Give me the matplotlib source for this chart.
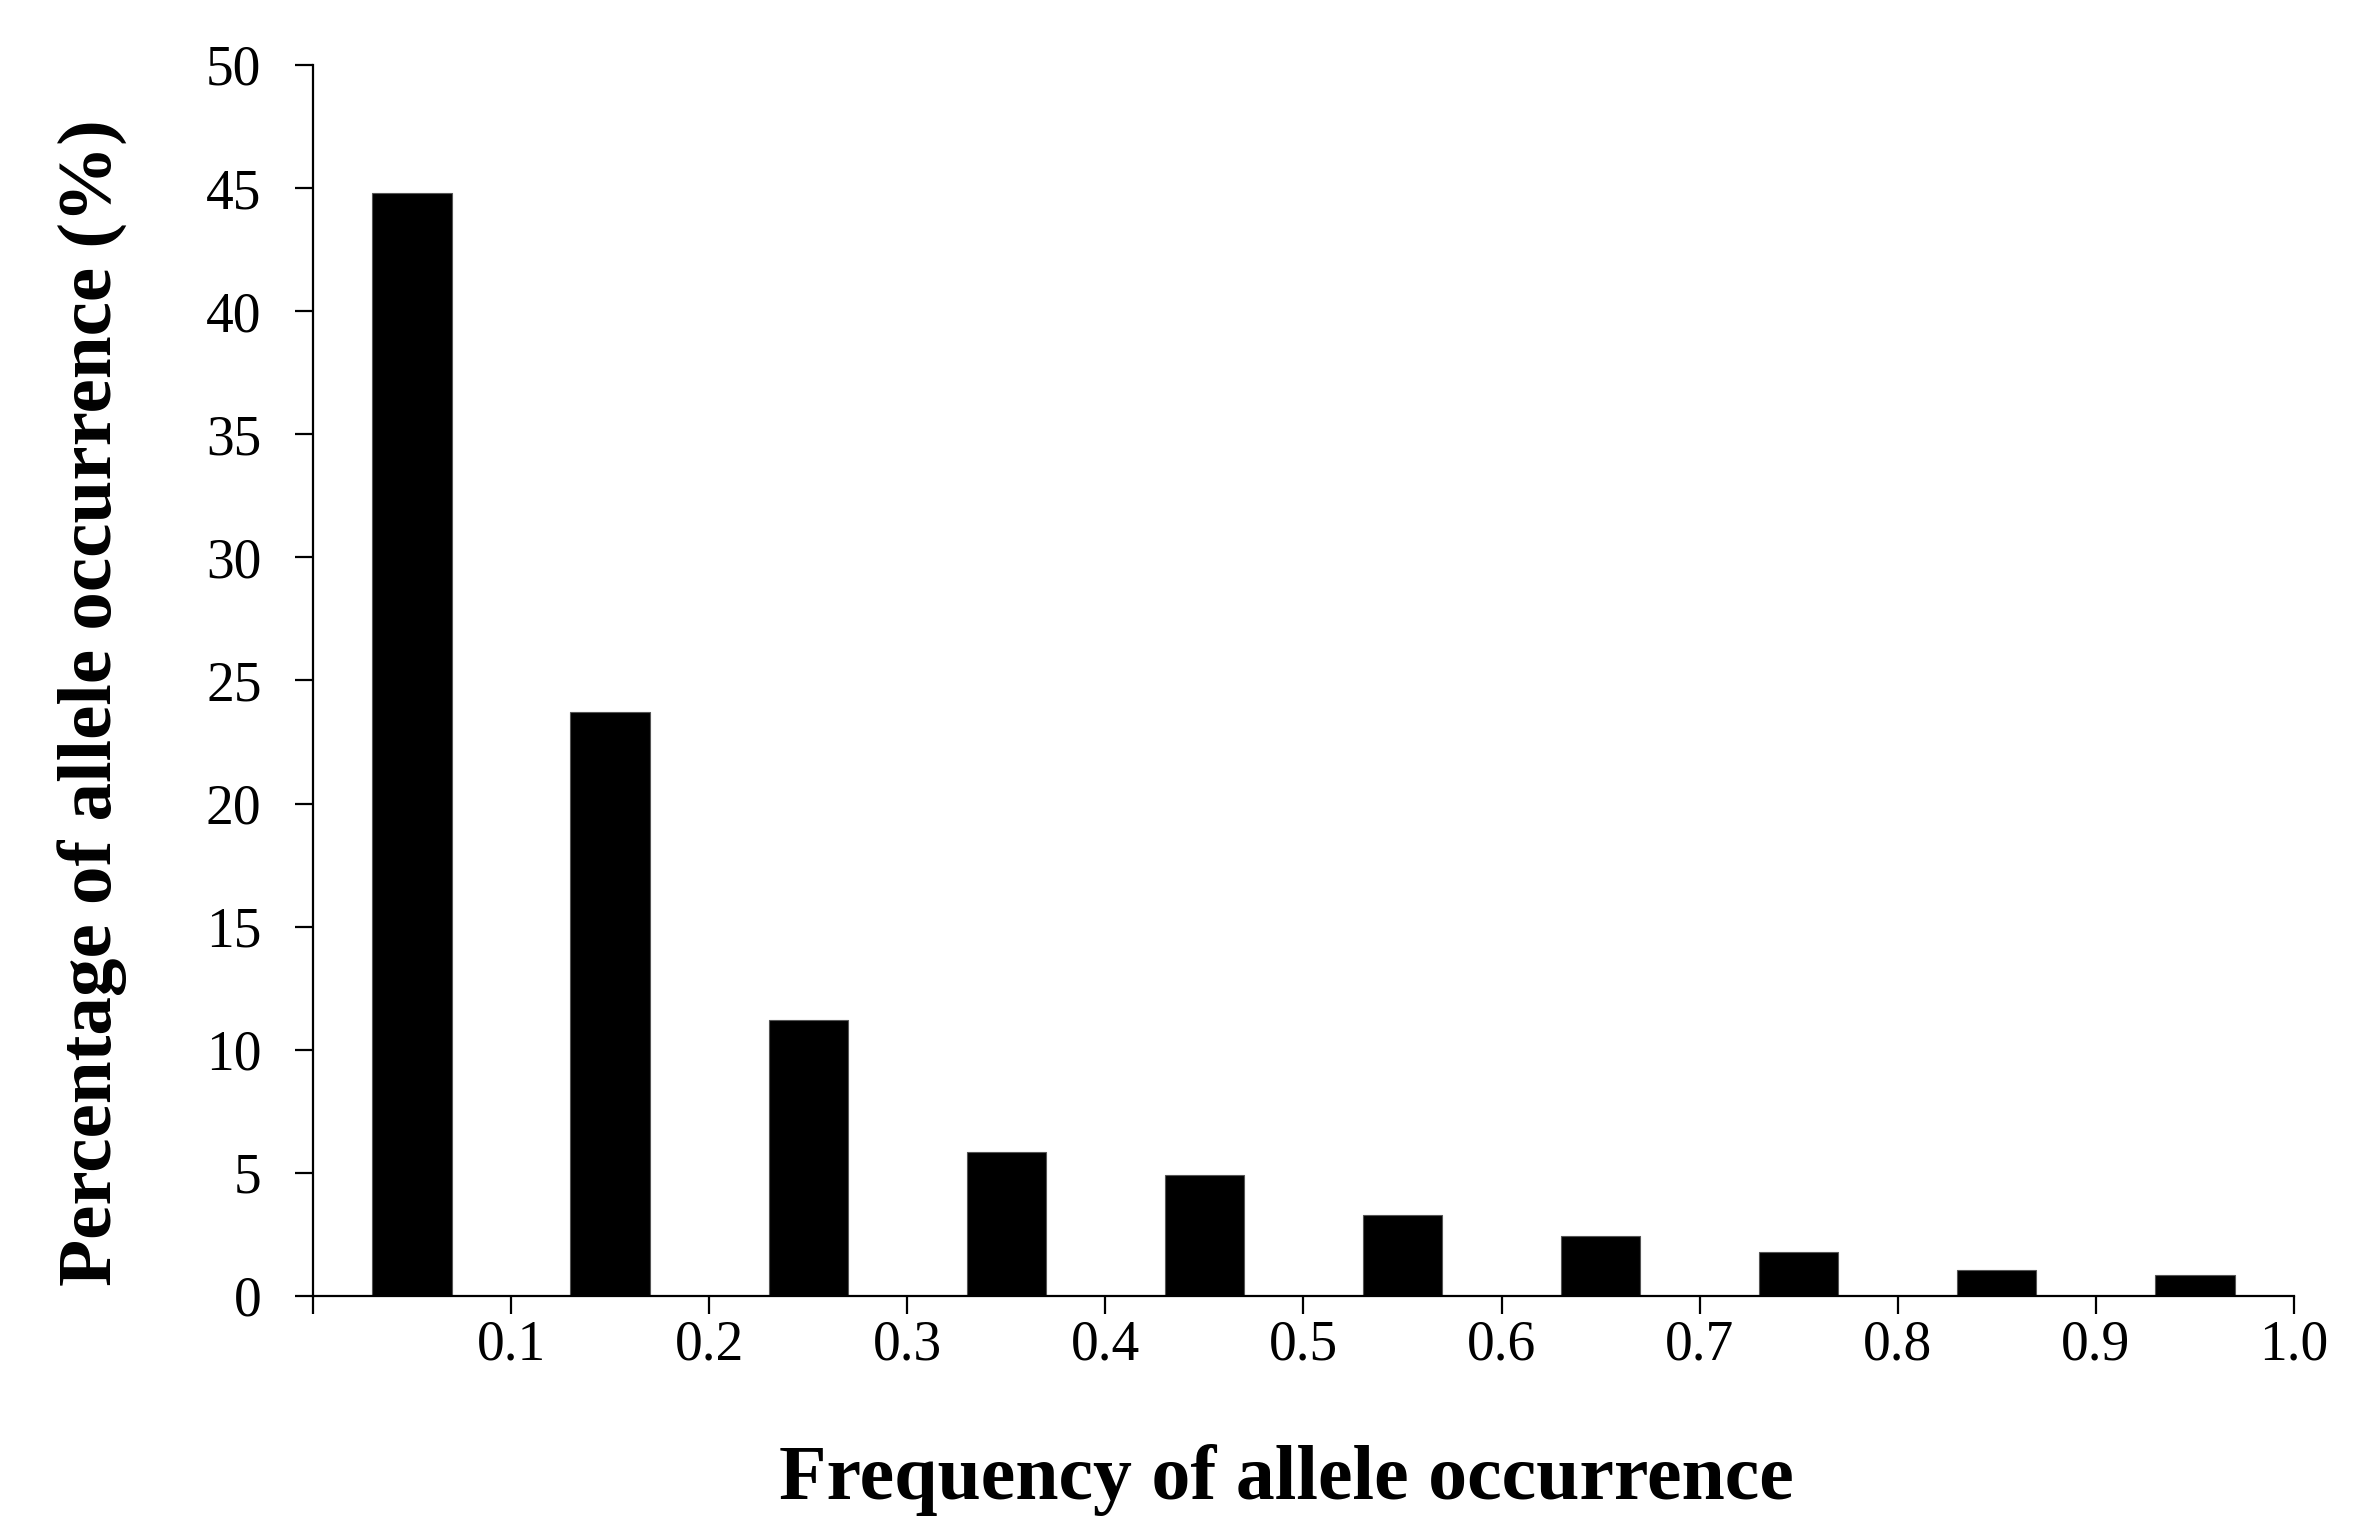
import matplotlib
matplotlib.use("Agg")
import matplotlib.pyplot as plt

bin_centers = [0.05, 0.15, 0.25, 0.35, 0.45, 0.55, 0.65, 0.75, 0.85, 0.95]
percentages = [44.8, 23.7, 11.2, 5.85, 4.9, 3.3, 2.45, 1.8, 1.05, 0.85]
x_ticks = [0.0, 0.1, 0.2, 0.3, 0.4, 0.5, 0.6, 0.7, 0.8, 0.9, 1.0]
x_tick_labels = ["", "0.1", "0.2", "0.3", "0.4", "0.5", "0.6", "0.7", "0.8", "0.9", "1.0"]
y_ticks = [0, 5, 10, 15, 20, 25, 30, 35, 40, 45, 50]

plt.rcParams['font.family'] = ['Liberation Serif', 'DejaVu Serif']

fig = plt.figure(figsize=(23.74, 15.39), dpi=100)
ax = fig.add_axes([0.1318, 0.1579, 0.9663 - 0.1318, 0.9578 - 0.1579])

ax.bar(bin_centers, percentages, width=0.04, color='black', edgecolor='#555555', linewidth=0.8)

ax.set_xlim(0, 1.0)
ax.set_ylim(0, 50)
ax.set_xticks(x_ticks)
ax.set_xticklabels(x_tick_labels)
ax.set_yticks(y_ticks)

for s in ['top', 'right']:
    ax.spines[s].set_visible(False)
for s in ['left', 'bottom']:
    ax.spines[s].set_linewidth(1.6)

ax.tick_params(axis='x', direction='out', length=13, width=1.6, labelsize=40, pad=4)
ax.tick_params(axis='y', direction='out', length=13, width=1.6, labelsize=40, pad=24)

ax.set_xlabel("Frequency of allele occurrence", fontsize=56, fontweight='bold', labelpad=52)
ax.set_ylabel("Percentage of allele occurrence (%)", fontsize=55.5, fontweight='bold', labelpad=56)
ax.xaxis.label.set_x(0.4915)
ax.yaxis.label.set_y(0.482)

fig.savefig("out.png", dpi=100, facecolor='white')
